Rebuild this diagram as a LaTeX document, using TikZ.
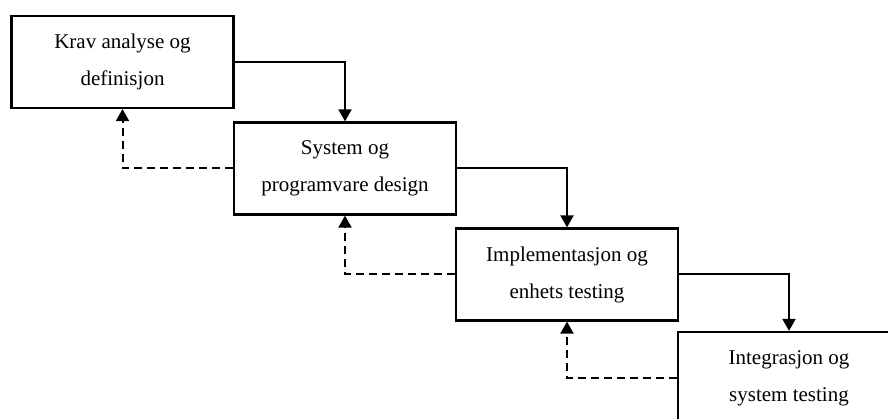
\documentclass[tikz,border=0pt]{standalone}
\usepackage{fontspec}
\setmainfont{Liberation Serif}
\usetikzlibrary{arrows.meta}
\begin{document}
\begin{tikzpicture}[x=1pt,y=-1pt,
  phase/.style={draw,line width=2.2pt,minimum width=222pt,minimum height=92pt,inner sep=0pt,align=center,
    font=\fontsize{21}{37}\selectfont},
  flow/.style={line width=2pt,-{Triangle[length=12pt,width=13pt]}},
  back/.style={line width=2pt,dash pattern=on 8pt off 5pt,-{Triangle[length=12pt,width=13pt]}}]
\useasboundingbox (0,0) rectangle (888,419);
\clip (0,0) rectangle (888,419);
\node[phase] (b1) at (122.5,62) {Krav analyse og\\definisjon};
\node[phase] (b2) at (345,168.5) {System og\\programvare design};
\node[phase] (b3) at (567,274.5) {Implementasjon og\\enhets testing};
\node[phase] (b4) at (789,378) {Integrasjon og\\system testing};
\draw[flow] (b1.east) -| (b2.north);
\draw[flow] (b2.east) -| (b3.north);
\draw[flow] (b3.east) -| (b4.north);
\draw[back] (b2.west) -| (b1.south);
\draw[back] (b3.west) -| (b2.south);
\draw[back] (b4.west) -| (b3.south);
\end{tikzpicture}
\end{document}
